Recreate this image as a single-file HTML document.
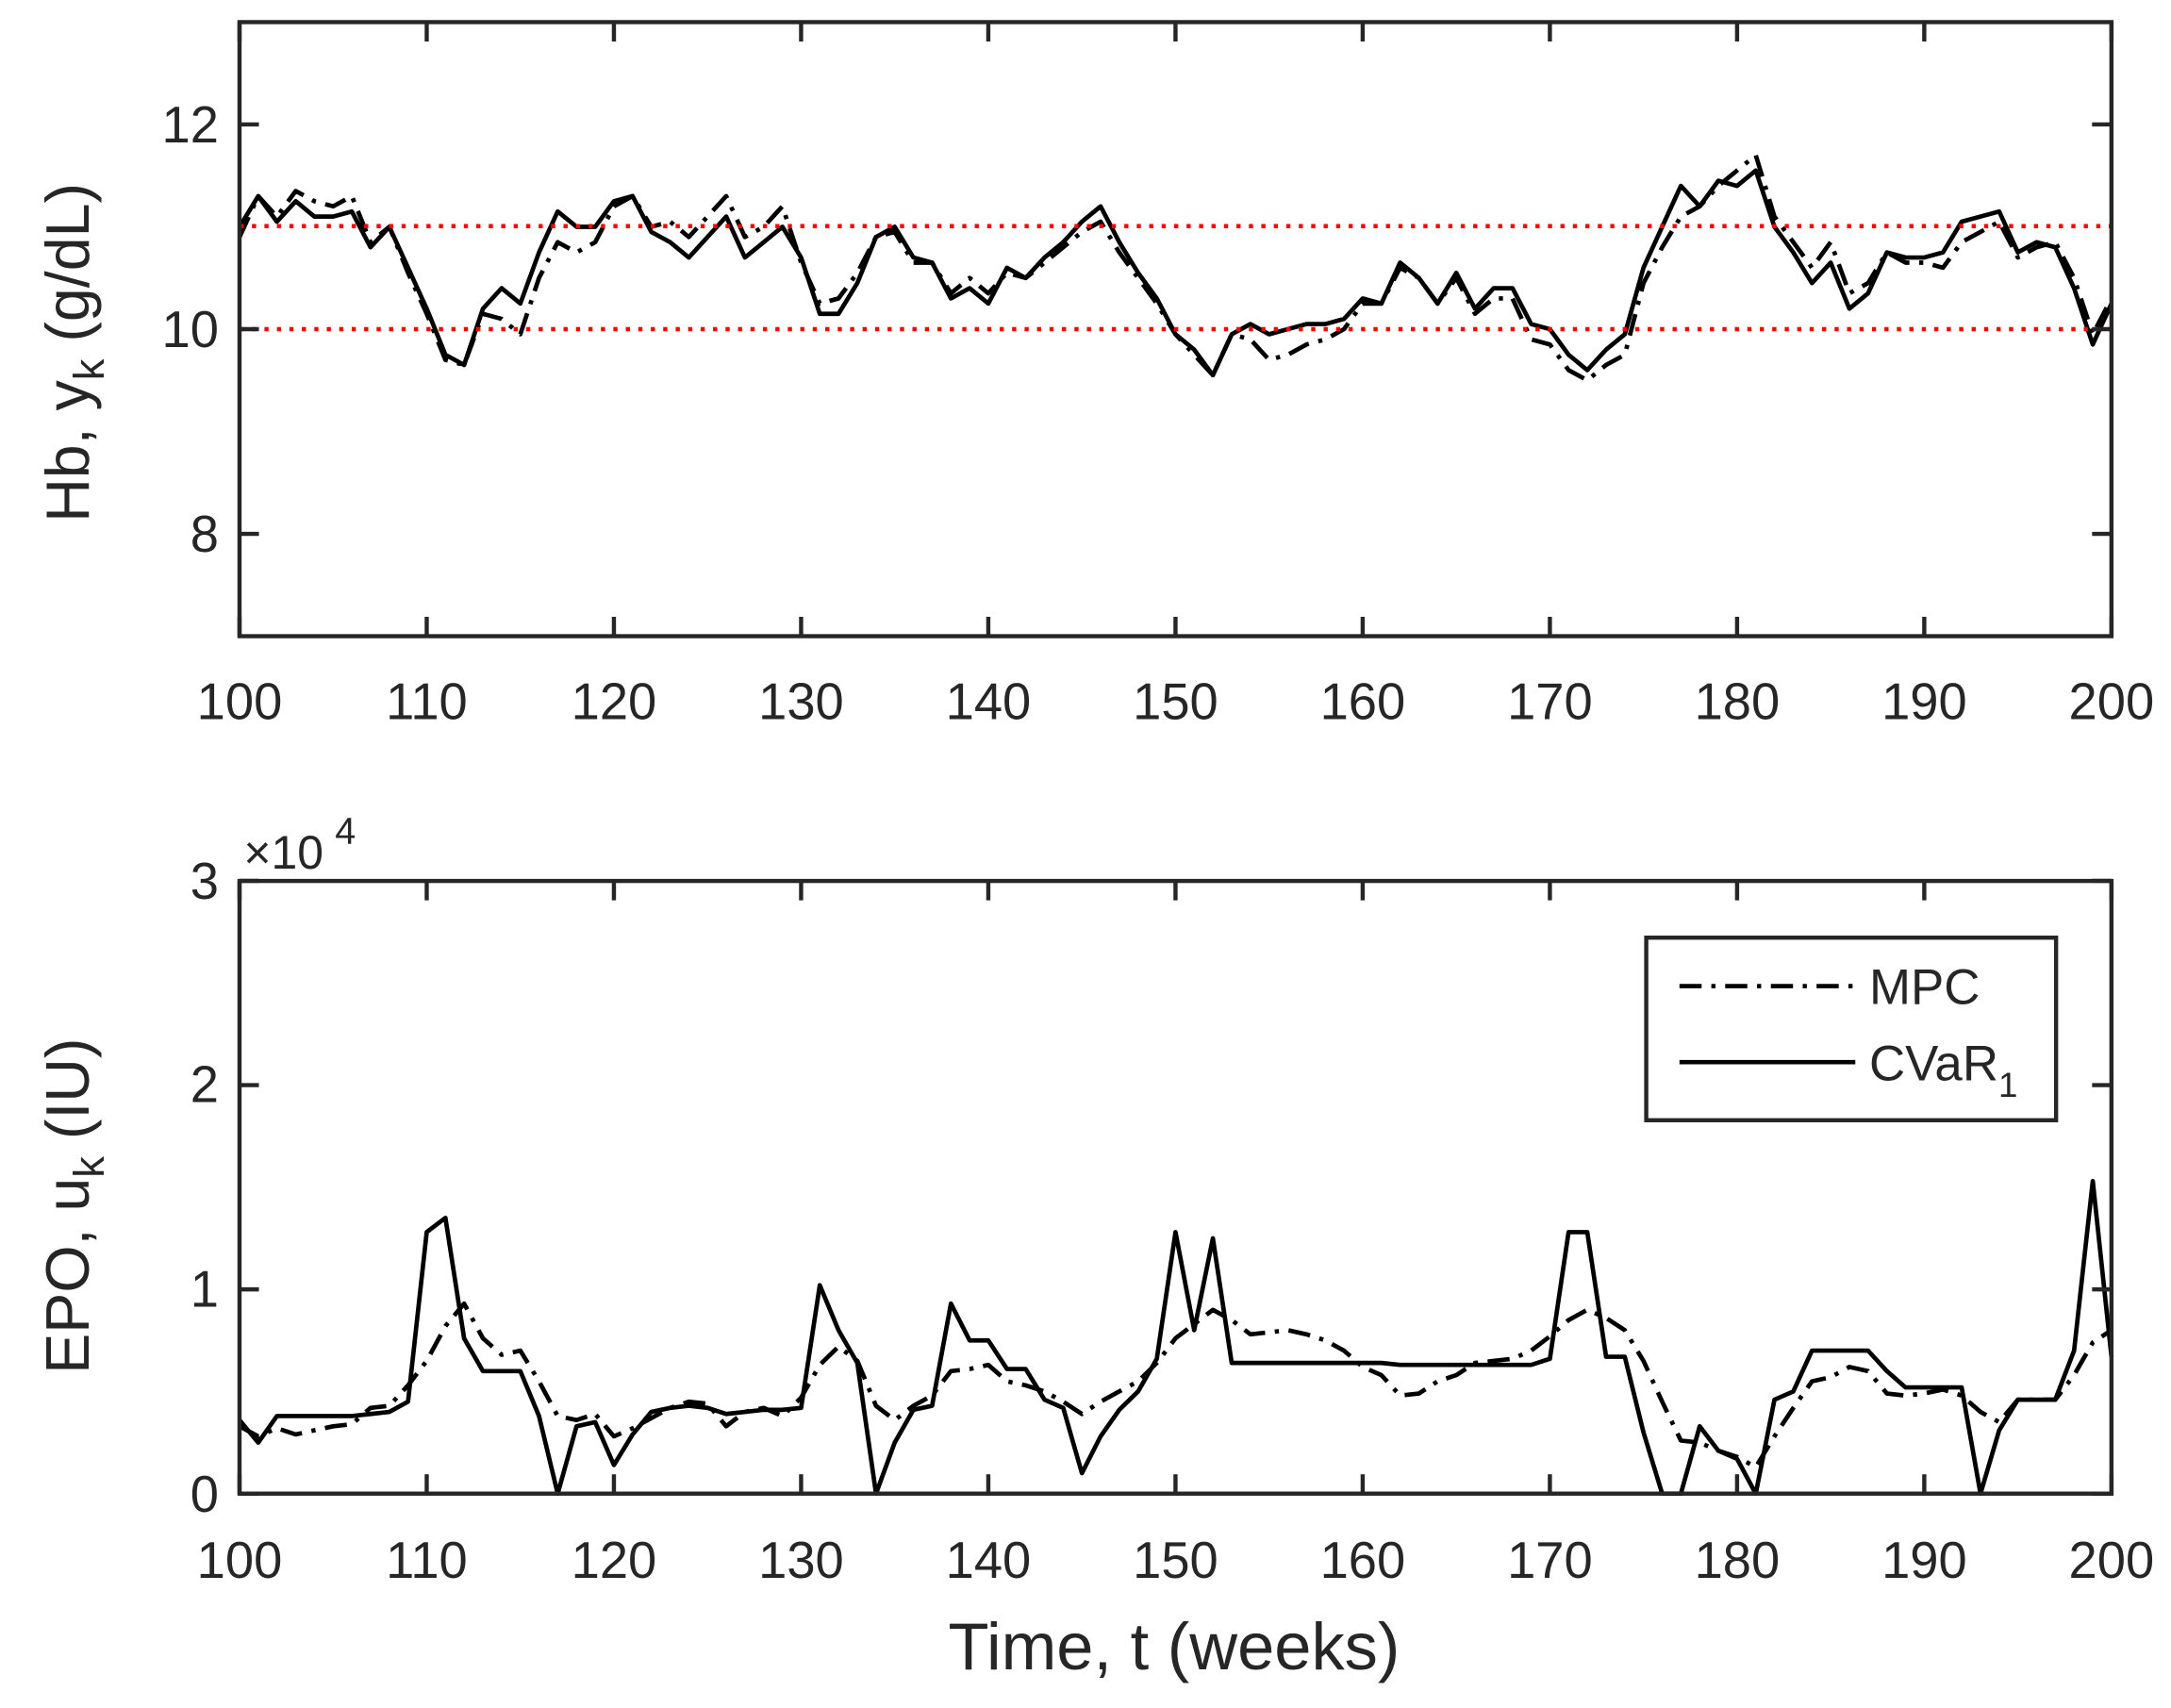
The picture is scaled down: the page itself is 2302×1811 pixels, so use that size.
<!DOCTYPE html>
<html><head><meta charset="utf-8"><style>
html,body{margin:0;padding:0;background:#fff}
svg{display:block}
text{font-family:"Liberation Sans",sans-serif;fill:#262626}
</style></head><body>
<svg id="s" width="2302" height="1811" viewBox="0 0 1568 1235" preserveAspectRatio="none" xmlns="http://www.w3.org/2000/svg">
<g id="plots"></g>
<line x1="173" y1="163.5" x2="1525" y2="163.5" stroke="#f00" stroke-width="3" stroke-dasharray="3,6"/>
<line x1="173" y1="238" x2="1525" y2="238" stroke="#f00" stroke-width="3" stroke-dasharray="3,6"/>
<rect x="173" y="16" width="1352" height="444" fill="none" stroke="#262626" stroke-width="3"/>
<g id="ticks"></g>
<g font-size="37" text-anchor="end">
<text x="158" y="103">12</text><text x="158" y="251">10</text><text x="158" y="399">8</text>
<text x="158" y="1093">0</text><text x="158" y="945">1</text><text x="158" y="797">2</text><text x="158" y="650">3</text>
</g>
<text x="176" y="628" font-size="34">×10</text><text x="242" y="610" font-size="27">4</text>
<g font-size="44">
<text transform="translate(64,255) rotate(-90)" text-anchor="middle">Hb, y<tspan font-size="31" dy="11">k</tspan><tspan dy="-11"> (g/dL)</tspan></text>
<text transform="translate(64,872) rotate(-90)" text-anchor="middle">EPO, u<tspan font-size="31" dy="11">k</tspan><tspan dy="-11"> (IU)</tspan></text>
<text x="848" y="1207" text-anchor="middle" font-size="48">Time, t (weeks)</text>
</g>
<rect x="173" y="637" width="1352" height="443" fill="none" stroke="#262626" stroke-width="3"/>
<rect x="1189" y="678" width="296" height="132" fill="#fff" stroke="#262626" stroke-width="3"/>
<line x1="1213" y1="713" x2="1340" y2="713" stroke="#000" stroke-width="3.2" stroke-dasharray="16,7,3,7"/>
<line x1="1213" y1="768" x2="1340" y2="768" stroke="#000" stroke-width="3.2"/>
<text x="1350" y="726" font-size="36">MPC</text>
<text x="1350" y="781" font-size="36">CVaR<tspan font-size="25" dy="12">1</tspan></text>
</svg>
<script>
var ns="http://www.w3.org/2000/svg";
function X(t){return 173+(t-100)*13.52}
function H(v){return 16+(13-v)*74}
function E(u){return 1080-u*14.77}
var hc=[11.0,11.3,11.05,11.25,11.1,11.1,11.15,10.8,11.0,10.6,10.2,9.75,9.65,10.2,10.4,10.25,10.75,11.15,11.0,11.0,11.25,11.3,10.95,10.85,10.7,10.9,11.1,10.7,10.85,11.0,10.7,10.15,10.15,10.45,10.9,11.0,10.7,10.65,10.3,10.4,10.25,10.6,10.5,10.7,10.85,11.05,11.2,10.85,10.55,10.3,9.95,9.8,9.55,9.95,10.05,9.95,10.0,10.05,10.05,10.1,10.3,10.25,10.65,10.5,10.25,10.55,10.2,10.4,10.4,10.05,10.0,9.75,9.6,9.8,9.95,10.6,11.0,11.4,11.2,11.45,11.4,11.55,11.0,10.75,10.45,10.65,10.2,10.35,10.75,10.7,10.7,10.75,11.05,11.1,11.15,10.75,10.85,10.8,10.4,9.85,10.25];
var hm=[10.9,11.3,11.1,11.35,11.25,11.2,11.3,10.85,11.0,10.55,10.15,9.7,9.65,10.15,10.1,9.95,10.5,10.85,10.75,10.85,11.2,11.3,11.0,11.05,10.9,11.1,11.3,10.9,11.0,11.2,10.65,10.25,10.3,10.55,10.9,10.95,10.65,10.65,10.35,10.5,10.35,10.55,10.5,10.65,10.8,10.95,11.05,10.75,10.5,10.25,9.95,9.75,9.55,9.95,9.9,9.7,9.75,9.85,9.9,10.0,10.25,10.25,10.6,10.5,10.25,10.5,10.15,10.3,10.3,9.9,9.85,9.6,9.5,9.65,9.75,10.45,10.8,11.1,11.2,11.4,11.55,11.7,11.1,10.85,10.6,10.85,10.35,10.45,10.75,10.65,10.65,10.6,10.85,10.95,11.05,10.7,10.8,10.85,10.5,9.95,10.3];
var ec=[3.6,2.5,3.8,3.8,3.8,3.8,3.8,3.9,4.0,4.5,12.8,13.5,7.6,6.0,6.0,6.0,3.8,0,3.3,3.5,1.4,2.9,4.0,4.2,4.3,4.2,3.9,4.0,4.1,4.1,4.2,10.2,8.0,6.4,0,2.5,4.1,4.3,9.3,7.5,7.5,6.1,6.1,4.6,4.2,1.0,2.8,4.1,5.0,6.6,12.8,8.0,12.5,6.4,6.4,6.4,6.4,6.4,6.4,6.4,6.4,6.4,6.3,6.3,6.3,6.3,6.3,6.3,6.3,6.3,6.6,12.8,12.8,6.7,6.7,3.0,0,0,3.3,2.1,1.7,0,4.6,5.0,7.0,7.0,7.0,7.0,6.0,5.2,5.2,5.2,5.2,0,3.1,4.6,4.6,4.6,7.0,15.3,6.7];
var em=[3.3,2.8,3.2,2.9,3.1,3.3,3.4,4.2,4.3,5.3,6.5,8.2,9.3,7.6,6.8,7.0,5.5,3.8,3.6,3.9,2.8,3.2,3.7,4.2,4.5,4.4,3.3,4.0,4.2,3.8,4.7,6.3,7.2,6.5,4.3,3.6,4.3,4.8,6.0,6.1,6.3,5.5,5.3,5.0,4.5,3.9,4.5,5.0,5.5,6.4,7.6,8.3,9.0,8.5,7.8,7.9,8.0,7.8,7.5,7.0,6.2,5.8,4.8,4.9,5.5,5.8,6.4,6.5,6.6,7.0,7.7,8.5,9.0,8.6,8.0,6.5,4.5,2.6,2.5,2.1,1.8,1.3,2.8,4.2,5.5,5.7,6.2,6.0,4.9,4.8,4.9,5.1,4.8,4.0,3.5,4.6,4.6,4.6,5.8,7.4,8.0];
var g=document.getElementById("plots");
function line(arr,f,dash){var p=arr.map(function(v,i){return X(100+i).toFixed(1)+","+f(v).toFixed(1)}).join(" ");
var e=document.createElementNS(ns,"polyline");e.setAttribute("points",p);e.setAttribute("fill","none");e.setAttribute("stroke","#000");e.setAttribute("stroke-width","3.2");e.setAttribute("stroke-linejoin","round");if(dash)e.setAttribute("stroke-dasharray","16,7,3,7");g.appendChild(e);}
line(hm,H,true);line(hc,H,false);line(em,E,true);line(ec,E,false);
var tk=document.getElementById("ticks");
function L(a,b,c,d){var e=document.createElementNS(ns,"line");e.setAttribute("x1",a);e.setAttribute("y1",b);e.setAttribute("x2",c);e.setAttribute("y2",d);e.setAttribute("stroke","#262626");e.setAttribute("stroke-width","3");tk.appendChild(e);}
function T(x,y,s){var e=document.createElementNS(ns,"text");e.setAttribute("x",x);e.setAttribute("y",y);e.setAttribute("font-size","37");e.setAttribute("text-anchor","middle");e.textContent=s;tk.appendChild(e);}
for(var t=100;t<=200;t+=10){var x=X(t);L(x,16,x,30);L(x,460,x,446);L(x,637,x,651);L(x,1080,x,1066);T(x,520,t);T(x,1141,t);}
[12,10,8].forEach(function(v){L(173,H(v),187,H(v));L(1525,H(v),1511,H(v));});
[0,1,2,3].forEach(function(v){var y=E(v*10);L(173,y,187,y);L(1525,y,1511,y);});
</script>
</body></html>
